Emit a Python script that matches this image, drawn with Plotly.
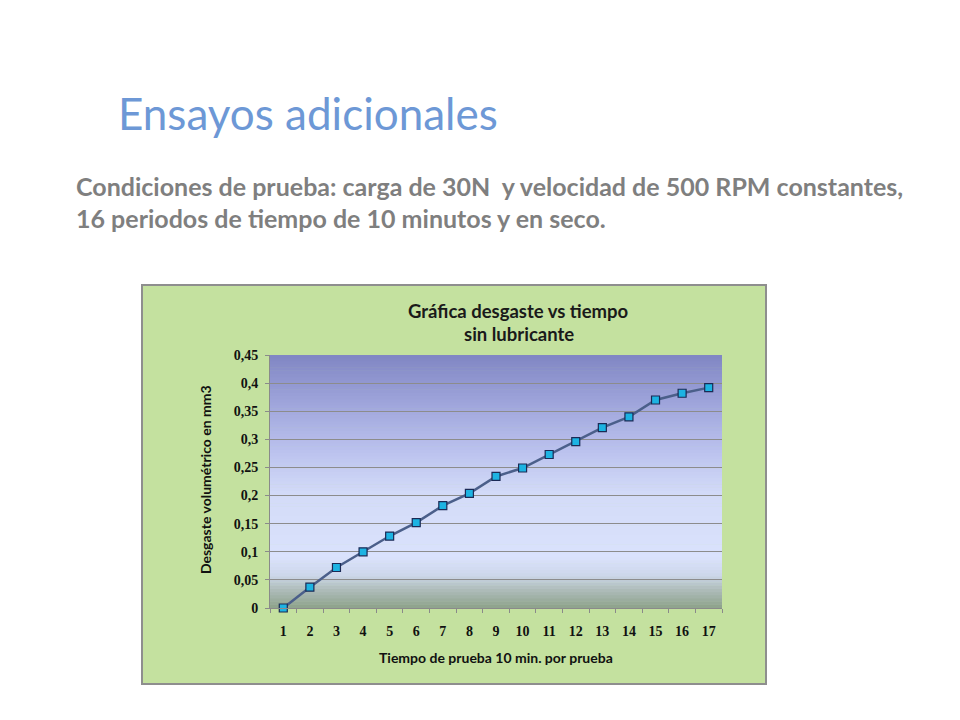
"""Ensayos adicionales: desgaste volumétrico vs tiempo (sin lubricante)."""
import plotly.graph_objects as go

# data
periodos = [str(i) for i in range(1, 18)]
desgaste_mm3 = [0.0, 0.037, 0.072, 0.100, 0.128, 0.152, 0.182, 0.204, 0.234,
                0.249, 0.273, 0.296, 0.321, 0.340, 0.370, 0.382, 0.392]
y_ticks = [0, 0.05, 0.1, 0.15, 0.2, 0.25, 0.3, 0.35, 0.4, 0.45]

# page body has an 8px margin, so the figure is a bit smaller than the window
OFF = 8
W, H = 960 - 2 * OFF, 720 - 2 * OFF
# plot area / chart box in pixels of the slide
PLOT_X0, PLOT_X1, PLOT_Y0, PLOT_Y1 = 270, 722, 355, 608
BOX_X0, BOX_X1, BOX_Y0, BOX_Y1 = 142, 766, 285, 684

SANS = "Lato, 'Open Sans', sans-serif"
SERIF = "'Liberation Serif', 'DejaVu Serif', serif"


def px(x):
    return (x - OFF) / W


def py(y):
    return 1 - (y - OFF) / H


def hex_to_rgb(h):
    h = h.lstrip("#")
    return tuple(int(h[i:i + 2], 16) for i in (0, 2, 4))


# gradient stops for plot background (0 = bottom, 1 = top)
GRAD_STOPS = [
    (0.00, "#8DA28A"),
    (0.08, "#B2BFC0"),
    (0.13, "#CDD7EA"),
    (0.20, "#DAE2FC"),
    (0.45, "#D3DBF8"),
    (0.62, "#BBC2EE"),
    (0.80, "#A0A6DC"),
    (1.00, "#8086C3"),
]


def grad_color(t):
    for (t0, c0), (t1, c1) in zip(GRAD_STOPS, GRAD_STOPS[1:]):
        if t0 <= t <= t1:
            f = (t - t0) / (t1 - t0) if t1 > t0 else 0
            a, b = hex_to_rgb(c0), hex_to_rgb(c1)
            r = [round(a[k] + (b[k] - a[k]) * f) for k in range(3)]
            return f"rgb({r[0]},{r[1]},{r[2]})"
    return GRAD_STOPS[-1][1]


fig = go.Figure()

shapes = []
# green chart box
shapes.append(dict(
    type="rect", xref="paper", yref="paper", layer="below",
    x0=px(BOX_X0), x1=px(BOX_X1), y0=py(BOX_Y1), y1=py(BOX_Y0),
    fillcolor="#C4E19F", line=dict(color="#8E8E8E", width=2),
))
# gradient strips behind the gridlines
n_strips = 80
for i in range(n_strips):
    t0 = i / n_strips
    t1 = (i + 1) / n_strips
    shapes.append(dict(
        type="rect", xref="x domain", yref="y domain", layer="below",
        x0=0, x1=1, y0=t0, y1=min(1, t1 + 0.002),
        fillcolor=grad_color((t0 + t1) / 2), line=dict(width=0),
    ))

fig.add_trace(go.Scatter(
    x=periodos,
    y=desgaste_mm3,
    mode="lines+markers",
    line=dict(color="#4B5F8A", width=2.5),
    marker=dict(symbol="square", size=8, color="#1DB3E2",
                line=dict(color="#1B2A55", width=1.2)),
    showlegend=False,
    cliponaxis=False,
    hovertemplate="%{x}: %{y}<extra></extra>",
))


def note(text, x, y, size, color, family=SANS, xanchor="left", angle=0):
    return dict(text=text, x=px(x), y=py(y), xref="paper", yref="paper",
                xanchor=xanchor, yanchor="middle", showarrow=False,
                textangle=angle, font=dict(family=family, size=size, color=color))


annotations = [
    note("Ensayos adicionales", 116, 113, 44, "#6D98D6"),
    note("<b>Condiciones de prueba: carga de 30N  y velocidad de 500 RPM constantes,</b>",
         74, 186, 25, "#7F7F7F"),
    note("<b>16 periodos de tiempo de 10 minutos y en seco.</b>", 74, 218, 25, "#7F7F7F"),
    note("<b>Gráfica desgaste vs tiempo</b>", 519, 311, 18.5, "#1A1A1A", xanchor="center"),
    note("<b>sin lubricante</b>", 519, 334, 18.5, "#1A1A1A", xanchor="center"),
    note("<b>Tiempo de prueba 10 min. por prueba</b>", 496, 657, 14, "#111111",
         xanchor="center"),
    note("<b>Desgaste volumétrico en mm3</b>", 205, 480, 14, "#111111",
         xanchor="center", angle=-90),
]

fig.update_layout(
    width=W, height=H,
    margin=dict(l=0, r=0, t=0, b=0, pad=0),
    paper_bgcolor="white",
    plot_bgcolor="rgba(0,0,0,0)",
    separators=",.",
    shapes=shapes,
    annotations=annotations,
    showlegend=False,
    xaxis=dict(
        domain=[px(PLOT_X0), px(PLOT_X1)],
        automargin=False,
        type="category",
        range=[-0.5, 16.5],
        tickson="boundaries",
        ticks="outside", ticklen=4, tickcolor="#8A8A8A",
        tickangle=0,
        showline=True, linecolor="#8A8A8A", linewidth=1,
        showgrid=False, zeroline=False,
        tickfont=dict(family=SERIF, size=14, color="#111111", weight="bold"),
        ticklabelstandoff=10,
    ),
    yaxis=dict(
        domain=[py(PLOT_Y1), py(PLOT_Y0)],
        automargin=False,
        range=[0, 0.45],
        tickvals=y_ticks,
        ticks="outside", ticklen=4, tickcolor="#8A8A8A",
        showline=True, linecolor="#8A8A8A", linewidth=1,
        showgrid=True, gridcolor="#8C8C8C", gridwidth=1,
        zeroline=False,
        tickfont=dict(family=SERIF, size=14, color="#111111", weight="bold"),
        ticklabelstandoff=4,
    ),
)

fig.write_html("out.html")
